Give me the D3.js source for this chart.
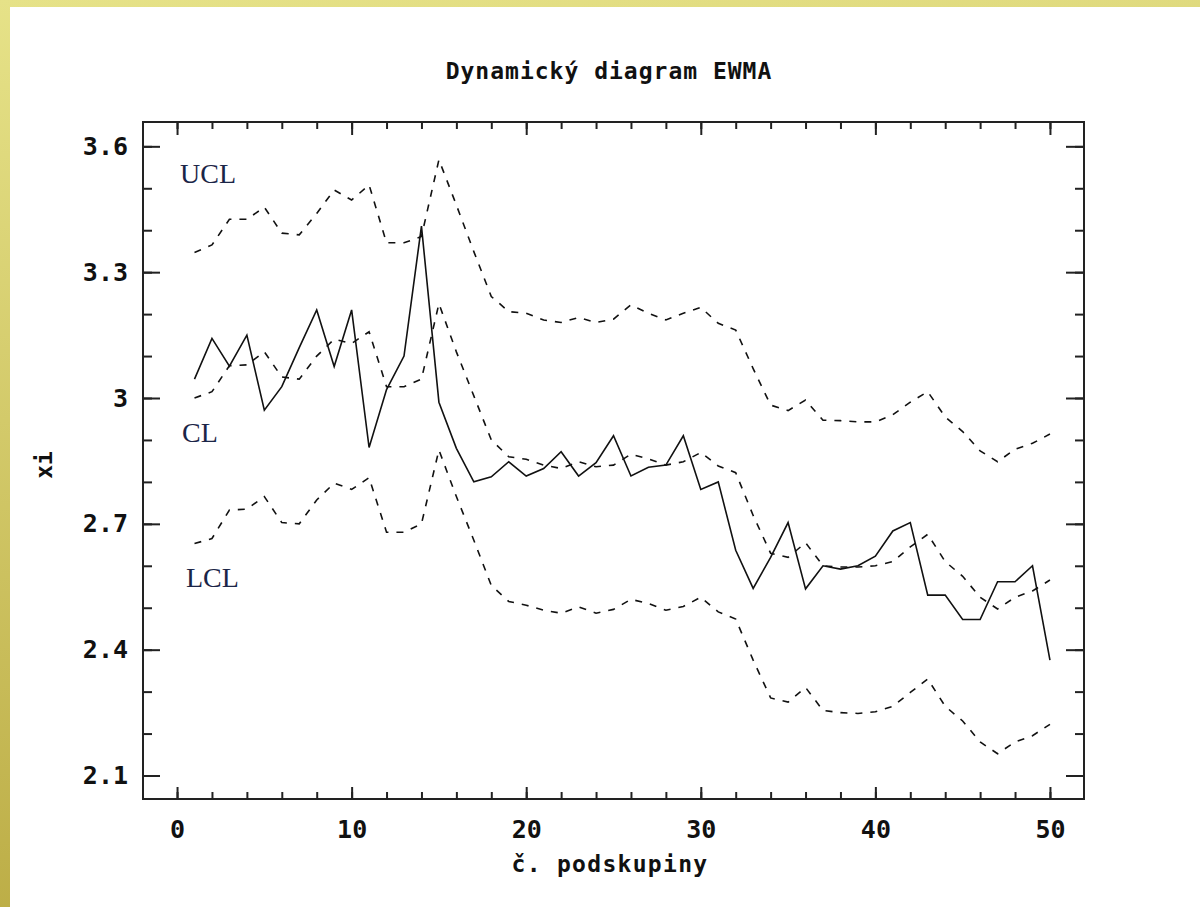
<!DOCTYPE html>
<html>
<head>
<meta charset="utf-8">
<script src="https://cdn.jsdelivr.net/npm/d3@7"></script>
<style>
body { margin: 0; }
svg { display: block; }
</style>
</head>
<body>
<svg width="1200" height="907"></svg>
<script>
// subgroup numbers and values
var subgroup = d3.range(1, 51);
var xi = [3.045, 3.142, 3.076, 3.15, 2.971, 3.027, 3.12, 3.21, 3.075, 3.21,
          2.882, 3.02, 3.10, 3.41, 2.99, 2.88, 2.80, 2.812, 2.848, 2.814,
          2.832, 2.872, 2.814, 2.846, 2.91, 2.814, 2.835, 2.84, 2.91, 2.782,
          2.80, 2.637, 2.546, 2.62, 2.703, 2.545, 2.60, 2.592, 2.60, 2.623,
          2.683, 2.703, 2.53, 2.53, 2.472, 2.472, 2.562, 2.562, 2.60, 2.375];
var cl = [3.00, 3.015, 3.077, 3.079, 3.11, 3.05, 3.045, 3.10, 3.14, 3.13,
          3.158, 3.027, 3.027, 3.045, 3.225, 3.11, 3.005, 2.90, 2.86, 2.854,
          2.84, 2.832, 2.848, 2.836, 2.84, 2.866, 2.855, 2.84, 2.848, 2.87,
          2.838, 2.822, 2.72, 2.63, 2.62, 2.655, 2.60, 2.597, 2.597, 2.60,
          2.61, 2.645, 2.675, 2.61, 2.575, 2.525, 2.497, 2.525, 2.54, 2.566];
var ucl = [3.347, 3.365, 3.426, 3.426, 3.455, 3.393, 3.389, 3.44, 3.496, 3.472,
           3.508, 3.37, 3.37, 3.385, 3.568, 3.46, 3.349, 3.242, 3.206, 3.202,
           3.186, 3.18, 3.192, 3.18, 3.188, 3.222, 3.202, 3.186, 3.202, 3.216,
           3.178, 3.162, 3.07, 2.983, 2.97, 2.995, 2.947, 2.946, 2.943, 2.943,
           2.96, 2.99, 3.015, 2.955, 2.92, 2.874, 2.848, 2.878, 2.892, 2.914];
var lcl = [2.653, 2.665, 2.733, 2.735, 2.765, 2.703, 2.70, 2.757, 2.797, 2.782,
           2.81, 2.68, 2.68, 2.70, 2.876, 2.765, 2.661, 2.553, 2.515, 2.506,
           2.494, 2.487, 2.502, 2.487, 2.496, 2.52, 2.51, 2.494, 2.503, 2.525,
           2.49, 2.473, 2.375, 2.285, 2.275, 2.31, 2.255, 2.25, 2.248, 2.252,
           2.265, 2.298, 2.33, 2.265, 2.23, 2.18, 2.152, 2.18, 2.195, 2.222];

var xTicks = d3.range(0, 51, 10);
var xMinor = d3.range(0, 51, 2);
var yTicks = [2.1, 2.4, 2.7, 3, 3.3, 3.6];
var yMinor = d3.range(21, 37).map(function(d){ return d / 10; });

var title = 'Dynamický diagram EWMA';
var xLabel = 'č. podskupiny';
var yLabel = 'xi';
var limitLabels = [{text: 'UCL', x: 180, y: 183}, {text: 'CL', x: 182, y: 442}, {text: 'LCL', x: 186, y: 587}];

var plotL = 143, plotR = 1084, plotT = 122, plotB = 799;
var mono = "'DejaVu Sans Mono', 'Liberation Mono', monospace";

var svg = d3.select('svg');

// yellow page frame
var grad = svg.append('defs').append('linearGradient')
	.attr('id', 'frame').attr('x1', 0).attr('y1', 0).attr('x2', 0.15).attr('y2', 1);
grad.append('stop').attr('offset', '0%').attr('stop-color', '#e6e288');
grad.append('stop').attr('offset', '100%').attr('stop-color', '#bcad46');
svg.append('rect').attr('width', 1200).attr('height', 907).attr('fill', 'url(#frame)');
svg.append('rect').attr('x', 10).attr('y', 7).attr('width', 1190).attr('height', 900).attr('fill', '#fff');

var x = d3.scaleLinear().domain([-1.95, 51.95]).range([plotL, plotR]);
var y = d3.scaleLinear().domain([2.044, 3.658]).range([plotB, plotT]);

function styleAxis(g) {
	g.select('.domain').remove();
	g.selectAll('.tick line').attr('stroke', '#222').attr('stroke-width', 2);
	g.selectAll('.tick text').attr('fill', '#111')
		.style('font-family', mono).style('font-weight', 'bold').style('font-size', '25px');
}

svg.append('g').attr('transform', 'translate(' + plotL + ',0)')
	.call(d3.axisLeft(y).tickValues(yMinor).tickSize(-9).tickFormat('')).call(styleAxis);
svg.append('g').attr('transform', 'translate(' + plotL + ',0)')
	.call(d3.axisLeft(y).tickValues(yTicks).tickSize(-17).tickPadding(15).tickFormat(String)).call(styleAxis);
svg.append('g').attr('transform', 'translate(' + plotR + ',0)')
	.call(d3.axisRight(y).tickValues(yMinor).tickSize(-9).tickFormat('')).call(styleAxis);
svg.append('g').attr('transform', 'translate(' + plotR + ',0)')
	.call(d3.axisRight(y).tickValues(yTicks).tickSize(-18).tickFormat('')).call(styleAxis);
svg.append('g').attr('transform', 'translate(0,' + plotB + ')')
	.call(d3.axisBottom(x).tickValues(xMinor).tickSize(-7).tickFormat('')).call(styleAxis);
svg.append('g').attr('transform', 'translate(0,' + plotB + ')')
	.call(d3.axisBottom(x).tickValues(xTicks).tickSize(-12).tickPadding(21).tickFormat(String)).call(styleAxis);
svg.append('g').attr('transform', 'translate(0,' + plotT + ')')
	.call(d3.axisTop(x).tickValues(xMinor).tickSize(-7).tickFormat('')).call(styleAxis);
svg.append('g').attr('transform', 'translate(0,' + plotT + ')')
	.call(d3.axisTop(x).tickValues(xTicks).tickSize(-13).tickFormat('')).call(styleAxis);

svg.append('rect')
	.attr('x', plotL).attr('y', plotT).attr('width', plotR - plotL).attr('height', plotB - plotT)
	.attr('fill', 'none').attr('stroke', '#222').attr('stroke-width', 2);

var line = d3.line()
	.x(function(d, i){ return x(subgroup[i]); })
	.y(function(d){ return y(d); });

[ucl, cl, lcl].forEach(function(s) {
	svg.append('path').datum(s)
		.attr('fill', 'none').attr('stroke', '#111').attr('stroke-width', 1.6)
		.attr('stroke-dasharray', '7,8')
		.attr('d', line);
});
svg.append('path').datum(xi)
	.attr('fill', 'none').attr('stroke', '#111').attr('stroke-width', 1.6)
	.attr('d', line);

svg.selectAll('text.limit').data(limitLabels).enter().append('text')
	.attr('class', 'limit')
	.attr('x', function(d){ return d.x; })
	.attr('y', function(d){ return d.y; })
	.attr('fill', '#1b2547')
	.style('font-family', "'Liberation Serif', 'Times New Roman', serif")
	.style('font-size', '28px')
	.text(function(d){ return d.text; });

svg.append('text')
	.attr('x', 609).attr('y', 79).attr('text-anchor', 'middle')
	.style('font-family', mono).style('font-weight', 'bold').style('font-size', '23px')
	.style('letter-spacing', '1px').attr('fill', '#111')
	.text(title);

svg.append('text')
	.attr('x', 610).attr('y', 872).attr('text-anchor', 'middle')
	.style('font-family', mono).style('font-weight', 'bold').style('font-size', '23px')
	.style('letter-spacing', '1.3px').attr('fill', '#111')
	.text(xLabel);

svg.append('text')
	.attr('transform', 'translate(52,465) rotate(-90)').attr('text-anchor', 'middle')
	.style('font-family', mono).style('font-weight', 'bold').style('font-size', '23px')
	.attr('fill', '#111')
	.text(yLabel);
</script>
</body>
</html>
